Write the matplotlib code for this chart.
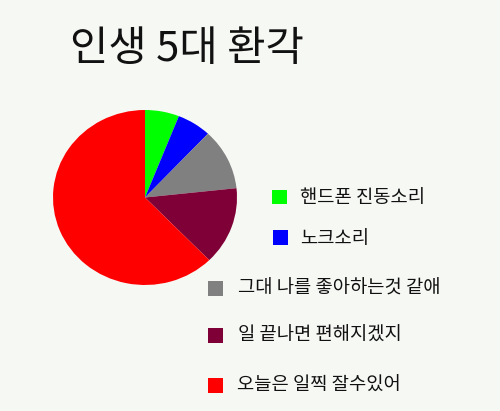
import matplotlib.pyplot as plt
from matplotlib.patches import Rectangle

plt.rcParams['font.family'] = ['Noto Sans CJK KR', 'DejaVu Sans']

# Data
title = '인생 5대 환각'
labels = ['핸드폰 진동소리', '노크소리', '그대 나를 좋아하는것 같애', '일 끝나면 편해지겠지', '오늘은 일찍 잘수있어']
values = [6, 6, 11.3, 14.4, 62.3]
colors = ['#00ff00', '#0000ff', '#808080', '#7f0037', '#ff0000']

W, H = 500, 411
bg = '#f6f8f4'
fig = plt.figure(figsize=(W / 100, H / 100), dpi=100, facecolor=bg)

def fx(px):
    return px / W

def fy(py):
    return 1 - py / H

# pie box in pixels (left, top, width, height)
pl, pt, pw, ph = 53, 110, 184, 175
ax = fig.add_axes([fx(pl), fy(pt + ph), pw / W, ph / H])
ax.pie(values, colors=colors, startangle=90, counterclock=False,
       wedgeprops=dict(linewidth=0))
ax.set_aspect('auto')
ax.set_xlim(-1, 1)
ax.set_ylim(-1, 1)
ax.set_facecolor(bg)

fig.text(fx(70), fy(49), title, fontsize=30, va='center', ha='left', color='#111111')

# legend: (marker left x, row center y, text x)
rows = [(272, 197, 300), (273, 238, 300), (208, 288, 238), (208, 335, 238), (208, 385, 237)]
sq = 15
for (mx, my, tx), lab, c in zip(rows, labels, colors):
    fig.add_artist(Rectangle((fx(mx), fy(my + sq / 2)), sq / W, sq / H,
                             transform=fig.transFigure, facecolor=c, edgecolor='none'))
    fig.text(fx(tx), fy(my), lab, fontsize=13.5, va='center', ha='left', color='#111111')

fig.savefig('out.png', dpi=100, facecolor=bg)
